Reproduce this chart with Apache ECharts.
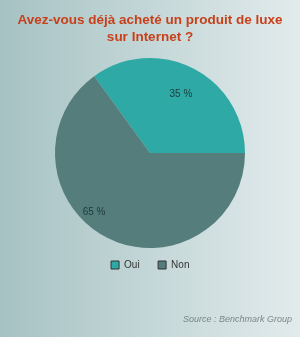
<!DOCTYPE html>
<html><head><meta charset="utf-8">
<script src="https://cdn.jsdelivr.net/npm/echarts@6/dist/echarts.min.js"></script>
<style>html,body{margin:0;padding:0;}#c{width:300px;height:337px;background:linear-gradient(to right,#a6c2c3,#e2ebec);}</style>
</head><body><div id="c"></div>
<script>
const categories = ["Oui", "Non"];
const values = [35, 65];
const colors = ["#2ea9a5", "#557d7b"];
const chart = echarts.init(document.getElementById('c'), null, {renderer:'canvas'});
chart.setOption({
  backgroundColor: 'transparent',
  title: {
    text: 'Avez-vous déjà acheté un produit de luxe\nsur Internet ?',
    left: 'center', top: 7,
    textStyle: {color:'#c8401a', fontFamily:'Liberation Sans, Arial', fontWeight:'bold', fontSize:13.5, lineHeight:17}
  },
  legend: {
    data: categories, top: 255, left: 'center',
    itemWidth: 8, itemHeight: 8, itemGap: 18, icon: 'rect',
    textStyle: {fontFamily:'Liberation Sans, Arial', fontSize:10, color:'#333'},
    itemStyle: {borderColor:'#333', borderWidth:1}
  },
  graphic: [{type:'text', right: 8, top: 315, style:{text:'Source : Benchmark Group', fontFamily:'Liberation Sans, Arial', fontStyle:'italic', fontSize:9, fill:'#7a8788'}}],
  series: [{
    type: 'pie', center: [150, 153], radius: 95, startAngle: 0, clockwise: false,
    animation: false,
    data: categories.map((c,i)=>({name:c, value:values[i], itemStyle:{color:colors[i]},
      label:{offset: i===0 ? [8,-14] : [-33,14]}})),
    label: {show:true, position:'inside', formatter:'{c} %', fontFamily:'Liberation Sans, Arial', fontSize:10, color:'#1d3a3a'},
    labelLine:{show:false}, emphasis:{disabled:true}
  }]
});
</script></body></html>
